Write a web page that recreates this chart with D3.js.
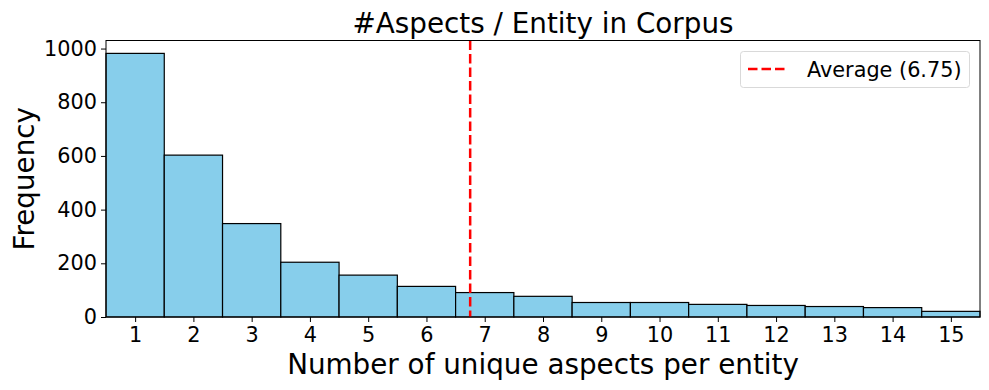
<!DOCTYPE html>
<html>
<head>
<meta charset="utf-8">
<script src="https://cdn.jsdelivr.net/npm/d3@7"></script>
<style>
  body { margin: 0; background: #fff; }
  text { font-family: "DejaVu Sans", sans-serif; fill: #000; }
</style>
</head>
<body>
<svg id="chart" width="989" height="390"></svg>
<script>
// histogram bins (number of unique aspects) and their counts
var bins = [1, 2, 3, 4, 5, 6, 7, 8, 9, 10, 11, 12, 13, 14, 15];
var counts = [982, 603, 348, 204, 156, 114, 91, 77, 54, 54, 47, 43, 39, 35, 21];
var yTicks = [0, 200, 400, 600, 800, 1000];
var average = 6.75;

var margin = { left: 106, right: 9, top: 40.5, bottom: 73 };
var width = 989, height = 390;

var svg = d3.select("#chart");

var x = d3.scaleLinear().domain([0.5, 15.5]).range([margin.left, width - margin.right]);
var y = d3.scaleLinear().domain([0, 1030]).range([height - margin.bottom, margin.top]);

// bars
svg.append("g")
  .selectAll("rect")
  .data(bins)
  .enter()
  .append("rect")
  .attr("x", function (d) { return x(d - 0.5); })
  .attr("width", function (d) { return x(d + 0.5) - x(d - 0.5); })
  .attr("y", function (d, i) { return y(counts[i]); })
  .attr("height", function (d, i) { return y(0) - y(counts[i]); })
  .style("fill", "#87CEEB")
  .style("stroke", "#000")
  .style("stroke-width", 1.2);

// average line
svg.append("line")
  .attr("x1", x(average)).attr("x2", x(average))
  .attr("y1", y.range()[1]).attr("y2", y.range()[0])
  .style("stroke", "red")
  .style("stroke-width", 2.5)
  .style("stroke-dasharray", "9.5,4");

// frame
svg.append("rect")
  .attr("x", margin.left).attr("y", margin.top)
  .attr("width", width - margin.left - margin.right)
  .attr("height", height - margin.top - margin.bottom)
  .style("fill", "none").style("stroke", "#000").style("stroke-width", 1);

// axes
var xAxis = svg.append("g")
  .attr("transform", "translate(0," + y(0) + ")")
  .call(d3.axisBottom(x).tickValues(bins).tickSize(5).tickPadding(5).tickFormat(d3.format("d")));
var yAxis = svg.append("g")
  .attr("transform", "translate(" + margin.left + ",0)")
  .call(d3.axisLeft(y).tickValues(yTicks).tickSize(5).tickPadding(4).tickFormat(d3.format("d")));

[xAxis, yAxis].forEach(function (g) {
  g.select(".domain").remove();
  g.selectAll("line").style("stroke", "#000").style("stroke-width", 1);
  g.selectAll("text").style("font-size", "20.8px").style("font-family", "DejaVu Sans");
});

// title and labels
svg.append("text")
  .attr("x", (margin.left + width - margin.right) / 2).attr("y", 33)
  .attr("text-anchor", "middle")
  .style("font-size", "27.8px")
  .text("#Aspects / Entity in Corpus");

svg.append("text")
  .attr("x", (margin.left + width - margin.right) / 2).attr("y", 374)
  .attr("text-anchor", "middle")
  .style("font-size", "27.8px")
  .text("Number of unique aspects per entity");

svg.append("text")
  .attr("transform", "translate(34," + (margin.top + y(0)) / 2 + ") rotate(-90)")
  .attr("text-anchor", "middle")
  .style("font-size", "27.8px")
  .text("Frequency");

// legend
var lg = svg.append("g");
lg.append("rect")
  .attr("x", 740.5).attr("y", 51.5).attr("width", 229).attr("height", 36)
  .attr("rx", 3)
  .style("fill", "#fff").style("stroke", "#d9d9d9").style("stroke-width", 1);
lg.append("line")
  .attr("x1", 748).attr("x2", 788).attr("y1", 69).attr("y2", 69)
  .style("stroke", "red").style("stroke-width", 2.5)
  .style("stroke-dasharray", "9.5,4");
lg.append("text")
  .attr("x", 807).attr("y", 76.5)
  .style("font-size", "20.8px")
  .text("Average (" + average + ")");
</script>
</body>
</html>
